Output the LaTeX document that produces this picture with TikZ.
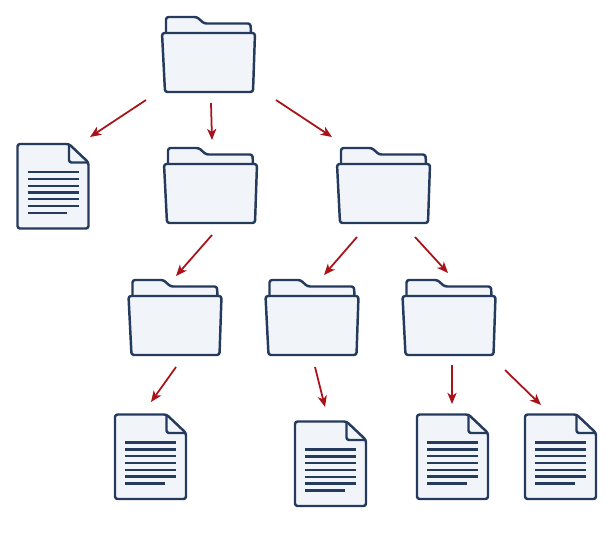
\documentclass[tikz,border=0pt]{standalone}
\usepackage{tikz}
\usetikzlibrary{arrows.meta,positioning}
\definecolor{navy}{HTML}{243B5E}
\definecolor{paper}{HTML}{F1F4F9}
\definecolor{arrowred}{HTML}{A81218}

\begin{document}
\begin{tikzpicture}[
    x=0.025cm, y=-0.025cm,
    folderbox/.style={minimum width=2.35cm, minimum height=1.88cm, inner sep=0pt},
    docbox/.style={minimum width=1.78cm, minimum height=2.12cm, inner sep=0pt},
    arr/.style={-{Stealth[length=2.8mm, width=2.3mm, inset=0.8mm]}, line width=1.25pt, arrowred},
    outline/.style={draw=navy, fill=paper, line width=1.75pt, rounded corners=1.8pt, line join=round},
    textline/.style={draw=navy, line width=1.6pt},
    folder/.pic={
        \draw[outline] (-42,-22) -- (-42,-38) -- (-11,-38) -- (-4,-31.5) -- (42.5,-31.5) -- (43,-22);
        \draw[outline] (-46,-22) -- (47,-22) -- (45,37) -- (-43,37) -- cycle;
    },
    document/.pic={
        \draw[outline] (-35.5,-42.5) -- (16,-42.5) -- (35.5,-24) -- (35.5,42) -- (-35.5,42) -- cycle;
        \draw[outline, fill=none] (16,-42.5) -- (16,-24) -- (35.5,-24);
        \foreach \y in {-14.5,-7.6,-0.8,6,12.8,19.6} {
            \draw[textline] (-25.5,\y) -- (25.5,\y);
        }
        \draw[textline] (-25.5,26.5) -- (14,26.5);
    }
]
\useasboundingbox (0,0) rectangle (616,540);
% folders
\node[folderbox] (root) at (208,55) {};
\node[folderbox] (sub1) at (210,186) {};
\node[folderbox] (sub2) at (383,186) {};
\node[folderbox] (sub3) at (174.5,318) {};
\node[folderbox] (sub4) at (311.5,318) {};
\node[folderbox] (sub5) at (448.5,318) {};
\foreach \n in {root,sub1,sub2,sub3,sub4,sub5} {
    \path (\n) pic {folder};
}
% files
\node[docbox] (doc1) at (53,186.5) {};
\node[docbox] (doc2) at (150.5,457) {};
\node[docbox] (doc3) at (330.5,464) {};
\node[docbox] (doc4) at (452.5,457) {};
\node[docbox] (doc5) at (560.5,457) {};
\foreach \n in {doc1,doc2,doc3,doc4,doc5} {
    \path (\n) pic {document};
}
% arrows
\draw[arr] ([shift={(-62,45)}]root.center) -- ([shift={(37,-49.5)}]doc1.center);
\draw[arr] ([shift={(3,48)}]root.center) -- ([shift={(2,-46)}]sub1.center);
\draw[arr] ([shift={(68,45)}]root.center) -- ([shift={(-51,-49)}]sub2.center);
\draw[arr] ([shift={(2,49)}]sub1.center) -- ([shift={(1.5,-42)}]sub3.center);
\draw[arr] ([shift={(-26,51)}]sub2.center) -- ([shift={(12.5,-43)}]sub4.center);
\draw[arr] ([shift={(32,51)}]sub2.center) -- ([shift={(-0.5,-45)}]sub5.center);
\draw[arr] ([shift={(1.5,49)}]sub3.center) -- ([shift={(0.5,-55)}]doc2.center);
\draw[arr] ([shift={(3.5,49)}]sub4.center) -- ([shift={(-5.5,-57)}]doc3.center);
\draw[arr] ([shift={(3.5,47)}]sub5.center) -- ([shift={(-0.5,-53)}]doc4.center);
\draw[arr] ([shift={(56.5,52)}]sub5.center) -- ([shift={(-19.5,-52)}]doc5.center);
\end{tikzpicture}
\end{document}
